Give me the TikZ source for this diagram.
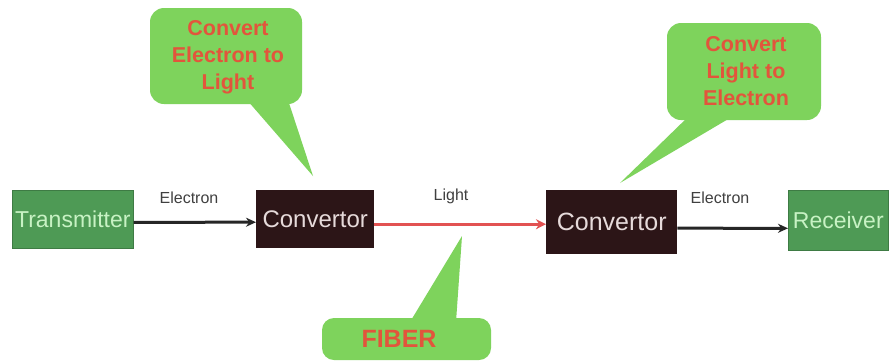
\documentclass[tikz,border=0pt]{standalone}
\usepackage{fontspec}
\setmainfont{Liberation Sans}
\usetikzlibrary{arrows.meta}
\definecolor{calloutgreen}{HTML}{7ED35C}
\definecolor{callouttext}{HTML}{E2553C}
\definecolor{boxgreen}{HTML}{4E9A55}
\definecolor{boxgreentext}{HTML}{C8F2C4}
\definecolor{convbrown}{HTML}{2C1517}
\definecolor{convtext}{HTML}{E6DADA}
\definecolor{fiberred}{HTML}{E25252}
\tikzset{
  x=1pt, y=-1pt,
  greenbox/.style={fill=boxgreen, draw=boxgreen!80!black, line width=0.6pt, text=boxgreentext,
    font=\fontsize{23}{26}\selectfont, inner sep=0pt, anchor=north west},
  convbox/.style={fill=convbrown, text=convtext, font=\fontsize{24}{28}\selectfont,
    inner sep=0pt, anchor=north west},
  link/.style={line width=3pt, color=black!85, -{Stealth[length=10pt,width=9pt]}},
  linklabel/.style={font=\fontsize{16}{18}\selectfont, text=black!75},
  bubble/.style={fill=calloutgreen, draw=none},
  bubbletext/.style={font=\bfseries\fontsize{21.5}{27}\selectfont, text=callouttext, align=center},
}
\begin{document}
\begin{tikzpicture}
\useasboundingbox[fill=white] (0,0) rectangle (896,360);

% main chain of boxes
\node[greenbox, minimum width=121pt, minimum height=58pt] (tx) at (12,190) {Transmitter};
\node[convbox, minimum width=118pt, minimum height=58pt] (c1) at (256,190) {Convertor};
\node[convbox, minimum width=131pt, minimum height=64pt, font=\fontsize{25}{29}\selectfont] (c2) at (546,190) {Convertor};
\node[greenbox, minimum width=100pt, minimum height=60pt] (rx) at (788,190) {Receiver};

% connectors
\draw[link] ([yshift=-3pt]tx.east) -- ([yshift=-3pt]c1.west);
\draw[line width=3pt, fiberred, -{Stealth[length=10pt,width=10pt]}] ([yshift=-5pt]c1.east) -- ([yshift=-2pt]c2.west);
\draw[link] ([yshift=-6pt]c2.east) -- ([yshift=-8pt]rx.west);

\node[linklabel] (l1) at (189,198) {Electron};
\node[linklabel] (l2) at (451,196) {Light};
\node[linklabel] (l3) at (720,198) {Electron};

% callouts
\coordinate (t1) at (313,176);
\fill[bubble] (247,100) -- (t1) -- (288,100) -- cycle;
\fill[bubble, rounded corners=14pt] (150,8) rectangle (302,104);
\node[bubbletext] (b1) at (228,57) {Convert\\Electron to\\Light};

\coordinate (t2) at (620,183);
\fill[bubble] (690,115) -- (t2) -- (735,115) -- cycle;
\fill[bubble, rounded corners=14pt] (667,23) rectangle (821,120);
\node[bubbletext] (b2) at (746,71) {Convert\\Light to\\Electron};

\coordinate (t3) at (462,236);
\fill[bubble] (410,322) -- (t3) -- (456,322) -- cycle;
\fill[bubble, rounded corners=12pt] (322,318) rectangle (491,360);
\node[bubbletext, font=\bfseries\fontsize{25}{28}\selectfont] (b3) at (399,339) {FIBER};
\end{tikzpicture}
\end{document}
